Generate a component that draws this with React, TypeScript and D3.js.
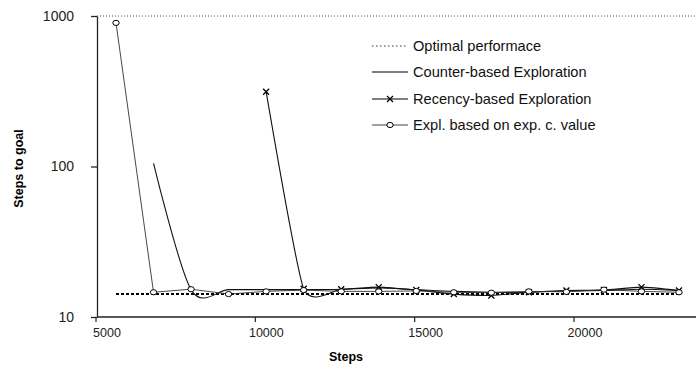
import { useEffect, useRef } from 'react';
import * as d3 from 'd3';

const steps = [5000, 6000, 7000, 8000, 9000, 10000, 11000, 12000, 13000, 14000, 15000, 16000, 17000, 18000, 19000, 20000];
const optimal = [14.2, 14.2, 14.2, 14.2, 14.2, 14.2, 14.2, 14.2, 14.2, 14.2, 14.2, 14.2, 14.2, 14.2, 14.2, 14.2];
const counterBased = [null, 105, 15.2, 15.2, 15.2, 15.2, 15.3, 15.6, 15.2, 14.8, 14.6, 14.6, 14.9, 15.0, 15.3, 15.0];
const recencyBased = [null, null, null, null, 314, 15.4, 15.3, 15.8, 15.1, 14.2, 13.9, 14.6, 15.0, 15.1, 15.8, 15.0];
const explValue = [900, 14.6, 15.3, 14.2, 14.8, 15.1, 14.8, 14.8, 14.9, 14.6, 14.5, 14.8, 14.7, 15.2, 14.8, 14.6];

const xTicks = [5000, 10000, 15000, 20000];
const yTicks = [10, 100, 1000];
const legendLabels = ['Optimal performace', 'Counter-based Exploration', 'Recency-based Exploration', 'Expl. based on exp. c. value'];

const W = 696;
const H = 376;
const FONT = '"Liberation Sans", Arial, sans-serif';

export default function App() {
  const svgRef = useRef<SVGSVGElement>(null);

  useEffect(() => {
    if (!svgRef.current) return;
    const svg = d3.select(svgRef.current);
    svg.selectAll('*').remove();

    const left = 97;
    const top = 16;
    const bottom = 317;

    // axis labels scale and data scale differ in the original figure
    const xAxis = d3.scaleLinear().domain([5000, 20000]).range([96, 574]);
    const x = d3.scaleLinear().domain([5000, 20000]).range([116, 679]);
    const y = d3.scaleLog().domain([10, 1000]).range([bottom, top]);

    // top gridline
    svg.append('line')
      .attr('x1', left).attr('x2', W).attr('y1', y(1000)).attr('y2', y(1000))
      .attr('stroke', '#444').attr('stroke-width', 1).attr('stroke-dasharray', '1,2');

    // y axis
    const gy = svg.append('g')
      .attr('transform', `translate(${left},0)`)
      .call(d3.axisLeft(y).tickValues(yTicks).tickFormat(d3.format('d')).tickSize(6).tickSizeOuter(0).tickPadding(17));
    gy.select('.domain').attr('stroke', '#222').attr('stroke-width', 1.3);
    gy.selectAll('.tick line').attr('stroke', '#222').attr('stroke-width', 1.3);
    gy.selectAll('text').attr('fill', '#222').style('font-size', '14px').style('font-family', FONT);

    // x axis
    svg.append('line')
      .attr('x1', left).attr('x2', W).attr('y1', bottom).attr('y2', bottom)
      .attr('stroke', '#222').attr('stroke-width', 1.3);
    xTicks.forEach((t) => {
      svg.append('line')
        .attr('x1', xAxis(t)).attr('x2', xAxis(t)).attr('y1', bottom).attr('y2', bottom + 5)
        .attr('stroke', '#222').attr('stroke-width', 1.2);
      svg.append('text')
        .attr('x', xAxis(t) + 11).attr('y', 337).attr('text-anchor', 'middle')
        .text(t).attr('fill', '#222')
        .style('font-size', '12.5px').style('font-family', FONT);
    });

    // titles
    svg.append('text')
      .attr('transform', `translate(23,${(top + bottom) / 2 + 2}) rotate(-90)`)
      .attr('text-anchor', 'middle').text('Steps to goal')
      .style('font-size', '12.5px').style('font-weight', 'bold').style('font-family', FONT);
    svg.append('text')
      .attr('x', 346).attr('y', 361).attr('text-anchor', 'middle').text('Steps')
      .style('font-size', '12.5px').style('font-weight', 'bold').style('font-family', FONT);

    const pts = (vals: (number | null)[]) =>
      steps.map((s, i) => ({ s, v: vals[i] })).filter((d) => d.v != null) as { s: number; v: number }[];

    const smooth = (t: number) => d3.line<{ s: number; v: number }>()
      .x((d) => x(d.s)).y((d) => y(d.v)).curve(d3.curveCardinal.tension(t));
    const straight = d3.line<{ s: number; v: number }>()
      .x((d) => x(d.s)).y((d) => y(d.v));

    // optimal
    svg.append('path').attr('d', straight(pts(optimal)))
      .attr('fill', 'none').attr('stroke', '#000').attr('stroke-width', 2).attr('stroke-dasharray', '3,2');

    // counter-based
    svg.append('path').attr('d', smooth(0.1)(pts(counterBased)))
      .attr('fill', 'none').attr('stroke', '#111').attr('stroke-width', 1.1);

    // recency-based
    const rec = pts(recencyBased);
    svg.append('path').attr('d', smooth(0.45)(rec))
      .attr('fill', 'none').attr('stroke', '#111').attr('stroke-width', 1.1);

    // expl value
    const ex = pts(explValue);
    svg.append('path').attr('d', straight(ex))
      .attr('fill', 'none').attr('stroke', '#333').attr('stroke-width', 0.9);

    const cross = (g: d3.Selection<SVGGElement, unknown, null, undefined>, cx: number, cy: number) => {
      const r = 3;
      g.append('path')
        .attr('d', `M${cx - r},${cy - r}L${cx + r},${cy + r}M${cx - r},${cy + r}L${cx + r},${cy - r}`)
        .attr('stroke', '#000').attr('stroke-width', 1.3);
    };
    const circ = (g: d3.Selection<SVGGElement, unknown, null, undefined>, cx: number, cy: number) => {
      g.append('ellipse').attr('cx', cx).attr('cy', cy).attr('rx', 3.2).attr('ry', 2.6)
        .attr('fill', '#fff').attr('stroke', '#000').attr('stroke-width', 1);
    };

    const marks = svg.append('g');
    rec.forEach((d) => cross(marks, x(d.s), y(d.v)));
    ex.forEach((d) => circ(marks, x(d.s), y(d.v)));

    // legend
    const lg = svg.append('g');
    const rows = [46, 72, 99, 125];
    legendLabels.forEach((label, i) => {
      const ly = rows[i];
      const ln = lg.append('line').attr('x1', 372).attr('x2', 408).attr('y1', ly).attr('y2', ly)
        .attr('stroke', i === 3 ? '#444' : '#000').attr('stroke-width', i === 0 ? 1 : 1.2);
      if (i === 0) ln.attr('stroke-dasharray', '1.5,2.5').attr('stroke', '#333');
      if (i === 2) cross(lg, 390, ly);
      if (i === 3) circ(lg, 390, ly);
      lg.append('text').attr('x', 413).attr('y', ly + 5).text(label)
        .attr('fill', '#111').style('font-size', '14.6px').style('font-family', FONT);
    });
  }, []);

  return (
    <svg ref={svgRef} width={W} height={H} style={{ position: 'absolute', left: 0, top: 0, background: '#fff' }} />
  );
}
